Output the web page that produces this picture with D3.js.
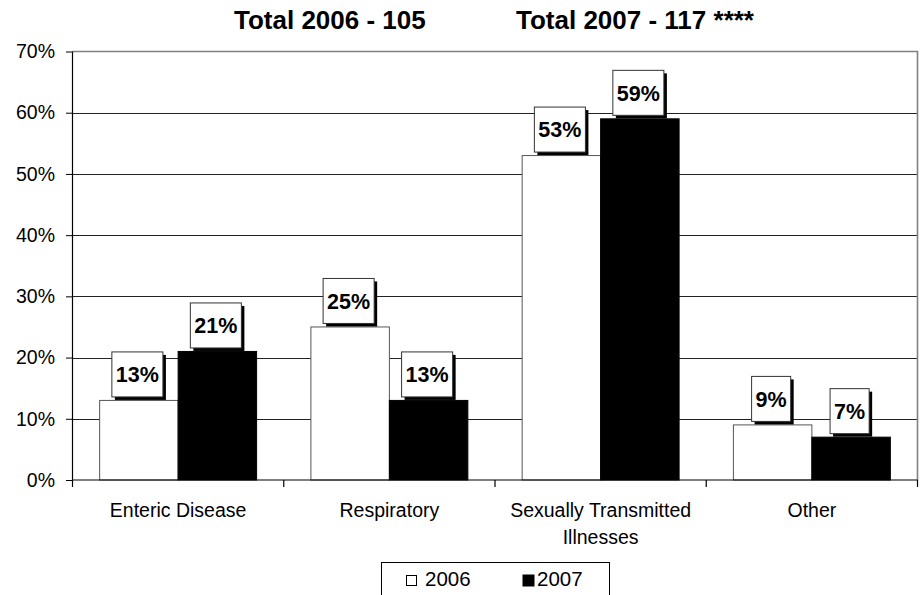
<!DOCTYPE html>
<html>
<head>
<meta charset="utf-8">
<script src="https://cdn.jsdelivr.net/npm/d3@7"></script>
<style>
  html, body { margin: 0; padding: 0; background: #fff; }
  svg { display: block; font-family: "Liberation Sans", Arial, sans-serif; }
</style>
</head>
<body>
<svg id="chart" width="920" height="595"></svg>
<script>
const categories = ["Enteric Disease", "Respiratory", "Sexually Transmitted Illnesses", "Other"];
const seriesNames = ["2006", "2007"];
const values2006 = [13, 25, 53, 9];
const values2007 = [21, 13, 59, 7];
const yTicks = [0, 10, 20, 30, 40, 50, 60, 70];
const titleParts = ["Total 2006 - 105", "Total 2007 - 117 ****"];

const seriesValues = [values2006, values2007];
const seriesFill = ["#ffffff", "#000000"];

const svg = d3.select("#chart");
const plot = { left: 72.5, right: 917.5, top: 51.5, bottom: 480 };

const x0 = d3.scaleBand().domain(categories).range([plot.left, plot.right]).padding(0);
const x1 = d3.scaleBand().domain(seriesNames).range([0, x0.bandwidth()])
  .paddingInner(0).paddingOuter(0.346);
const y = d3.scaleLinear().domain([0, 70]).range([plot.bottom, plot.top]);

// Title
svg.append("text").attr("x", 234).attr("y", 29.3)
  .attr("font-size", 26).attr("font-weight", "bold").text(titleParts[0]);
svg.append("text").attr("x", 516).attr("y", 29.3)
  .attr("font-size", 26).attr("font-weight", "bold").text(titleParts[1]);

// Gridlines
svg.append("g").selectAll("line").data(yTicks.filter(t => t > 0 && t < 70)).join("line")
  .attr("x1", plot.left).attr("x2", plot.right)
  .attr("y1", d => Math.round(y(d)) + 0.5).attr("y2", d => Math.round(y(d)) + 0.5)
  .attr("stroke", "#222").attr("stroke-width", 1);

// Plot area border (top & right)
svg.append("path")
  .attr("d", `M${plot.left},${y(70)}H${plot.right}V${plot.bottom}`)
  .attr("fill", "none").attr("stroke", "#808080").attr("stroke-width", 1.6);

// Bars
const groups = svg.append("g").selectAll("g").data(categories).join("g")
  .attr("transform", d => `translate(${x0(d)},0)`);

const barData = (c, i) => seriesNames.map((s, k) => ({ series: s, k, value: seriesValues[k][i] }));

groups.selectAll("rect.bar").data((c, i) => barData(c, i)).join("rect")
  .attr("class", "bar")
  .attr("x", d => x1(d.series))
  .attr("width", x1.bandwidth())
  .attr("y", d => y(d.value))
  .attr("height", d => y(0) - y(d.value))
  .attr("fill", d => seriesFill[d.k])
  .attr("stroke", d => d.k === 0 ? "#555" : "#000")
  .attr("stroke-width", 1);

// Y axis
const yAxis = d3.axisLeft(y).tickValues(yTicks).tickSize(6.5).tickPadding(11)
  .tickFormat(d => d + "%");
const gy = svg.append("g").attr("transform", `translate(${plot.left},0)`).call(yAxis);
gy.select(".domain").attr("stroke", "#000").attr("stroke-width", 1.2).attr("d", `M0,${plot.top}V${plot.bottom}`);
gy.selectAll(".tick line").attr("stroke", "#000");
gy.selectAll(".tick text").attr("font-size", 19.5).attr("fill", "#000")
  .attr("font-family", "'Liberation Sans', Arial, sans-serif");

// X axis line and ticks at band boundaries
const boundaries = categories.map(c => x0(c)).concat([plot.right]);
svg.append("line").attr("x1", plot.left).attr("x2", plot.right)
  .attr("y1", plot.bottom).attr("y2", plot.bottom).attr("stroke", "#000").attr("stroke-width", 1.2);
svg.append("g").selectAll("line").data(boundaries).join("line")
  .attr("x1", d => d).attr("x2", d => d)
  .attr("y1", plot.bottom).attr("y2", plot.bottom + 7)
  .attr("stroke", "#000").attr("stroke-width", 1.2);

// Category labels with wrapping
const catLabels = svg.append("g").selectAll("text").data(categories).join("text")
  .attr("x", d => x0(d) + x0.bandwidth() / 2)
  .attr("y", 516.5)
  .attr("text-anchor", "middle")
  .attr("font-size", 19.5)
  .attr("fill", "#000");
catLabels.each(function(d) {
  const t = d3.select(this);
  const words = d.split(" ");
  const maxW = x0.bandwidth() - 10;
  let line = [];
  let tspan = t.append("tspan").attr("x", x0(d) + x0.bandwidth() / 2).attr("dy", 0);
  words.forEach(w => {
    line.push(w);
    tspan.text(line.join(" "));
    if (tspan.node().getComputedTextLength() > maxW && line.length > 1) {
      line.pop();
      tspan.text(line.join(" "));
      line = [w];
      tspan = t.append("tspan").attr("x", x0(d) + x0.bandwidth() / 2).attr("dy", 27).text(w);
    }
  });
});

// Data labels: boxed with shadow
const labelH = 45, shadow = 3;
groups.each(function(c, i) {
  const g = d3.select(this);
  barData(c, i).forEach(d => {
    const cx = x1(d.series) + x1.bandwidth() / 2;
    const lg = g.append("g");
    const txt = lg.append("text")
      .attr("text-anchor", "middle")
      .attr("font-size", 21.5).attr("font-weight", "bold")
      .text(d.value + "%");
    const w = txt.node().getComputedTextLength() + 8;
    const bottom = y(d.value) - 3.5;
    const top = bottom - labelH;
    const left = cx - w / 2 - 1.5;
    lg.insert("rect", "text").attr("x", left + shadow).attr("y", top + shadow)
      .attr("width", w).attr("height", labelH).attr("fill", "#000");
    lg.insert("rect", "text").attr("x", left).attr("y", top)
      .attr("width", w).attr("height", labelH).attr("fill", "#fff")
      .attr("stroke", "#333").attr("stroke-width", 1);
    txt.attr("x", left + w / 2).attr("y", top + labelH / 2).attr("dy", "0.36em");
  });
});

// Legend
const lg = svg.append("g");
lg.append("rect").attr("x", 381.5).attr("y", 562.5).attr("width", 228).attr("height", 50)
  .attr("fill", "#fff").attr("stroke", "#000").attr("stroke-width", 1);
const legendItems = [
  { name: seriesNames[0], fill: seriesFill[0], sx: 406, sy: 575.5, size: 10, tx: 425 },
  { name: seriesNames[1], fill: seriesFill[1], sx: 522.5, sy: 575, size: 11, tx: 537 }
];
legendItems.forEach(it => {
  lg.append("rect").attr("x", it.sx + 0.5).attr("y", it.sy).attr("width", it.size).attr("height", it.size)
    .attr("fill", it.fill).attr("stroke", "#000").attr("stroke-width", 1);
  lg.append("text").attr("x", it.tx).attr("y", 585.5).attr("font-size", 20.5).attr("fill", "#000").text(it.name);
});
</script>
</body>
</html>
